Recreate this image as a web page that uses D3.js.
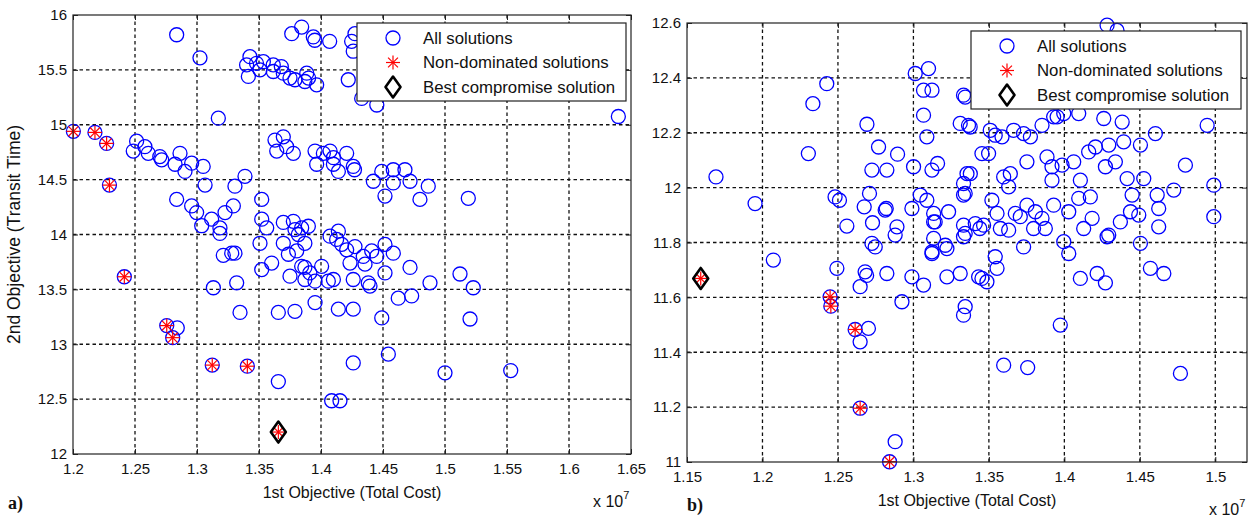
<!DOCTYPE html>
<html>
<head>
<meta charset="utf-8">
<script src="https://cdn.jsdelivr.net/npm/d3@7/dist/d3.min.js"></script>
<style>
body { margin: 0; background: #fff; }
svg { font-family: Arial, "Liberation Sans", sans-serif; }
</style>
</head>
<body>
<div id="app"></div>
<script>
// x values are in units of 1e7 (as printed on the axis)
// panel a) all solutions
const leftAll = [
  [1.2836,15.82],[1.3024,15.61],[1.3427,15.62],[1.3400,15.545],[1.3414,15.44],[1.3480,15.56],
  [1.3508,15.50],[1.3535,15.575],[1.3615,15.545],[1.3615,15.485],[1.3680,15.53],[1.3696,15.47],
  [1.3750,15.425],[1.3790,15.41],[1.3885,15.47],[1.3900,15.425],[1.3870,15.394],[1.3965,15.364],
  [1.3764,15.83],[1.3844,15.89],[1.3938,15.80],[1.3950,15.77],[1.4070,15.76],[1.4247,15.76],
  [1.4274,15.83],[1.4260,15.67],[1.4220,15.41],[1.4328,15.24],[1.4450,15.18],[1.6398,15.075],
  [1.3172,15.06],
  [1.2513,14.85],[1.2486,14.76],[1.2580,14.80],[1.2607,14.74],[1.2700,14.71],[1.2715,14.68],
  [1.2823,14.64],[1.2863,14.74],[1.2903,14.575],[1.2957,14.65],[1.3050,14.62],[1.2836,14.32],
  [1.3065,14.45],[1.2957,14.26],[1.2997,14.20],[1.3038,14.08],[1.3118,14.14],[1.3185,14.06],
  [1.3185,14.01],[1.3226,14.20],[1.3293,14.26],[1.3306,14.44],[1.3387,14.53],[1.3522,14.32],
  [1.3522,14.14],[1.3562,14.06],
  [1.3629,14.86],[1.3696,14.89],[1.3643,14.76],[1.3723,14.80],[1.3777,14.74],[1.3952,14.76],
  [1.3965,14.64],[1.4019,14.74],[1.4073,14.76],[1.4100,14.64],[1.4140,14.575],[1.4207,14.74],
  [1.4260,14.62],[1.4100,14.70],[1.4270,14.59],[1.4422,14.485],[1.4490,14.575],[1.4516,14.35],
  [1.4583,14.59],[1.4583,14.47],[1.4677,14.59],[1.4718,14.485],[1.4798,14.32],[1.4865,14.44],
  [1.5188,14.33],
  [1.3696,14.11],[1.3777,14.12],[1.3790,14.045],[1.3817,14.00],[1.3844,14.06],[1.3898,14.075],
  [1.3870,13.92],[1.3696,13.92],[1.3737,13.82],[1.3804,13.85],[1.3844,13.71],[1.3870,13.70],
  [1.3910,13.65],[1.3750,13.62],[1.3870,13.59],[1.3952,13.575],[1.4005,13.71],[1.4059,13.575],
  [1.4100,13.59],[1.4073,13.985],[1.4140,14.03],[1.4126,13.955],[1.4167,13.91],[1.4207,13.86],
  [1.4274,13.89],[1.4234,13.74],[1.4341,13.80],[1.4355,13.73],[1.4409,13.85],[1.4449,13.80],
  [1.4516,13.91],[1.4583,13.83],[1.4516,13.65],[1.4381,13.56],[1.4395,13.53],[1.4260,13.59],
  [1.3952,13.38],[1.4140,13.32],[1.4260,13.32],[1.4490,13.24],[1.4623,13.42],[1.4731,13.44],
  [1.4718,13.70],[1.4879,13.56],[1.5121,13.64],[1.5228,13.515],[1.5202,13.23],[1.3508,13.92],
  [1.3306,13.83],[1.3522,13.68],[1.3602,13.74],[1.3320,13.56],[1.3347,13.29],[1.3656,13.29],
  [1.3790,13.30],[1.3212,13.81],[1.3280,13.83],[1.3132,13.515],[1.3656,12.66],[1.4543,12.91],
  [1.4260,12.83],[1.5000,12.74],[1.5530,12.76],[1.4086,12.485],[1.4153,12.485],[1.2841,13.15],
  [1.2003,14.94],[1.2177,14.93],[1.2271,14.83],[1.2294,14.45],[1.2414,13.615],[1.2756,13.17],
  [1.2804,13.06],[1.3123,12.81],[1.3406,12.80]
];
const leftNonDom = [
  [1.2003,14.94],[1.2177,14.93],[1.2271,14.83],[1.2294,14.45],[1.2414,13.615],[1.2756,13.17],
  [1.2804,13.06],[1.3123,12.81],[1.3406,12.80],[1.3656,12.20]
];
const leftBest = [[1.3656,12.20]];

// panel b) all solutions
const rightAll = [
  [1.3012,12.416],[1.3100,12.434],[1.3067,12.355],[1.3123,12.355],[1.3067,12.264],[1.3089,12.185],
  [1.3332,12.337],[1.3310,12.234],[1.2426,12.379],[1.2334,12.306],[1.2692,12.231],[1.2304,12.124],
  [1.1692,12.039],[1.1951,11.942],[1.2769,12.148],[1.2895,12.122],[1.2725,12.064],[1.2824,12.064],
  [1.3001,12.076],[1.3123,12.064],[1.3160,12.088],[1.3355,12.051],[1.3332,12.015],[1.2481,11.966],
  [1.2510,11.954],[1.2709,11.979],[1.2674,11.930],[1.2820,11.924],[1.2990,11.924],[1.3045,11.973],
  [1.3089,11.954],[1.3134,11.906],[1.3233,11.912],[1.3332,11.973],[1.2559,11.860],[1.2729,11.872],
  [1.2891,11.857],[1.2879,11.827],[1.3134,11.875],[1.3134,11.815],[1.3332,11.863],[1.3332,11.821],
  [1.2725,11.797],[1.2747,11.784],[1.3211,11.790],[1.2072,11.736],[1.2493,11.706],[1.2680,11.693],
  [1.2690,11.680],[1.2647,11.639],[1.2824,11.687],[1.2990,11.675],[1.3067,11.645],[1.2924,11.584],
  [1.3222,11.675],[1.3310,11.687],[1.3343,11.566],[1.3332,11.535],[1.2702,11.487],[1.2647,11.438],
  [1.2879,11.074],[1.3123,11.766],[1.3365,12.227],[1.3509,12.209],[1.3542,12.191],[1.3454,12.124],
  [1.3498,12.124],[1.3587,12.185],[1.3664,12.209],[1.3730,12.197],[1.3775,12.185],[1.3852,12.227],
  [1.3929,12.258],[1.3752,12.094],[1.3885,12.112],[1.3918,12.076],[1.3918,12.027],[1.3598,12.039],
  [1.3642,12.051],[1.3631,12.003],[1.3377,12.051],[1.3343,11.979],[1.3520,11.954],[1.3144,11.875],
  [1.2813,11.918],[1.3123,11.760],[1.3222,11.778],[1.3343,11.833],[1.3410,11.869],[1.3465,11.863],
  [1.3440,11.851],[1.3554,11.906],[1.3576,11.851],[1.3631,11.845],[1.3675,11.906],[1.3708,11.894],
  [1.3752,11.936],[1.3808,11.912],[1.3852,11.888],[1.3874,11.851],[1.3929,11.936],[1.3796,11.851],
  [1.3730,11.784],[1.3542,11.748],[1.3554,11.706],[1.3487,11.657],[1.3432,11.675],[1.3454,11.669],
  [1.4946,12.227],[1.4603,12.197],[1.4504,12.155],[1.4393,12.167],[1.4294,12.155],[1.4206,12.148],
  [1.4161,12.130],[1.4802,12.082],[1.4338,12.094],[1.4272,12.076],[1.4062,12.094],[1.3985,12.082],
  [1.4416,12.033],[1.4526,12.033],[1.4990,12.009],[1.4725,11.991],[1.4615,11.973],[1.4449,11.973],
  [1.4438,11.912],[1.4493,11.900],[1.4625,11.924],[1.4625,11.857],[1.4990,11.894],[1.4371,11.875],
  [1.4294,11.827],[1.4184,11.888],[1.4128,11.851],[1.4106,12.027],[1.4095,11.961],[1.4172,11.966],
  [1.4029,11.912],[1.3996,11.803],[1.4029,11.760],[1.4504,11.797],[1.4570,11.706],[1.4659,11.687],
  [1.4106,11.669],[1.4217,11.687],[1.4272,11.653],[1.3973,11.499],[1.3996,12.270],[1.3952,12.258],
  [1.4095,12.270],[1.4261,12.252],[1.4383,12.239],[1.4283,12.592],[1.4349,12.573],[1.3343,12.330],
  [1.3376,12.221],[1.4283,11.821],[1.3598,11.353],[1.3757,11.344],[1.4769,11.323],
  [1.2448,11.602],[1.2453,11.568],[1.2614,11.483],[1.2647,11.196],[1.2842,11.001]
];
const rightNonDom = [
  [1.2448,11.602],[1.2453,11.568],[1.2614,11.483],[1.2647,11.196],[1.2842,11.001],[1.1591,11.669]
];
const rightBest = [[1.1591,11.669]];

const leftXTicks = [1.2, 1.25, 1.3, 1.35, 1.4, 1.45, 1.5, 1.55, 1.6, 1.65];
const leftYTicks = [12, 12.5, 13, 13.5, 14, 14.5, 15, 15.5, 16];
const rightXTicks = [1.15, 1.2, 1.25, 1.3, 1.35, 1.4, 1.45, 1.5];
const rightYTicks = [11, 11.2, 11.4, 11.6, 11.8, 12, 12.2, 12.4, 12.6];
const legendLabels = ['All solutions', 'Non-dominated solutions', 'Best compromise solution'];

const svg = d3.select('#app').append('svg').attr('width', 1255).attr('height', 521);

// MATLAB style markers
function circle(g, cx, cy) {
  g.append('circle').attr('cx', cx).attr('cy', cy).attr('r', 7)
    .attr('fill', 'none').attr('stroke', '#0000ff').attr('stroke-width', 1.3);
}
function star(g, cx, cy) {
  const r = 7, d = r * Math.SQRT1_2;
  const segs = [[-r,0,r,0],[0,-r,0,r],[-d,-d,d,d],[-d,d,d,-d]];
  segs.forEach(s => g.append('line')
    .attr('x1', cx + s[0]).attr('y1', cy + s[1]).attr('x2', cx + s[2]).attr('y2', cy + s[3])
    .attr('stroke', '#ff0000').attr('stroke-width', 1.2));
}
function diamond(g, cx, cy) {
  const w = 7.5, h = 10.5;
  g.append('path')
    .attr('d', `M${cx},${cy - h}L${cx + w},${cy}L${cx},${cy + h}L${cx - w},${cy}Z`)
    .attr('fill', 'none').attr('stroke', '#000').attr('stroke-width', 2.6).attr('stroke-linejoin', 'round');
}

function drawPanel(cfg) {
  const x = d3.scaleLinear().domain(cfg.xDomain).range([cfg.left, cfg.right]);
  const y = d3.scaleLinear().domain(cfg.yDomain).range([cfg.bottom, cfg.top]);
  const g = svg.append('g');

  // dotted grid
  g.selectAll('.vgrid').data(cfg.xTicks.filter(t => x(t) > cfg.left + 1 && x(t) < cfg.right - 1))
    .enter().append('line')
    .attr('x1', d => x(d)).attr('x2', d => x(d)).attr('y1', cfg.top).attr('y2', cfg.bottom)
    .attr('stroke', '#111').attr('stroke-width', 1.3).attr('stroke-dasharray', '3.5,3');
  g.selectAll('.hgrid').data(cfg.yTicks.filter(t => y(t) > cfg.top + 1 && y(t) < cfg.bottom - 1))
    .enter().append('line')
    .attr('y1', d => y(d)).attr('y2', d => y(d)).attr('x1', cfg.left).attr('x2', cfg.right)
    .attr('stroke', '#111').attr('stroke-width', 1.3).attr('stroke-dasharray', '3.5,3');

  // axes, ticks pointing inward on all four sides
  const fmt = d => String(d);
  const ax = [
    g.append('g').attr('transform', `translate(0,${cfg.bottom})`)
      .call(d3.axisBottom(x).tickValues(cfg.xTicks).tickFormat(fmt).tickSizeInner(-5).tickSizeOuter(0).tickPadding(9)),
    g.append('g').attr('transform', `translate(${cfg.left},0)`)
      .call(d3.axisLeft(y).tickValues(cfg.yTicks).tickFormat(fmt).tickSizeInner(-5).tickSizeOuter(0).tickPadding(6)),
    g.append('g').attr('transform', `translate(0,${cfg.top})`)
      .call(d3.axisTop(x).tickValues(cfg.xTicks).tickFormat('').tickSizeInner(-5).tickSizeOuter(0)),
    g.append('g').attr('transform', `translate(${cfg.right},0)`)
      .call(d3.axisRight(y).tickValues(cfg.yTicks).tickFormat('').tickSizeInner(-5).tickSizeOuter(0))
  ];
  ax.forEach(a => {
    a.selectAll('text').attr('font-size', 15).attr('fill', '#111').attr('font-family', 'Arial, "Liberation Sans", sans-serif');
    a.selectAll('line').attr('stroke', '#222');
    a.select('.domain').remove();
  });

  // markers
  const marks = g.append('g');
  cfg.all.forEach(p => circle(marks, x(p[0]), y(p[1])));
  cfg.nonDom.forEach(p => star(marks, x(p[0]), y(p[1])));
  cfg.best.forEach(p => diamond(marks, x(p[0]), y(p[1])));

  // box
  g.append('rect').attr('x', cfg.left).attr('y', cfg.top)
    .attr('width', cfg.right - cfg.left).attr('height', cfg.bottom - cfg.top)
    .attr('fill', 'none').attr('stroke', '#222').attr('stroke-width', 1.2);

  // axis labels
  g.append('text').attr('x', (cfg.left + cfg.right) / 2).attr('y', cfg.bottom + 44)
    .attr('text-anchor', 'middle').attr('font-size', 16).attr('fill', '#111')
    .text('1st Objective (Total Cost)');
  const ex = g.append('text').attr('x', cfg.right - 38).attr('y', cfg.bottom + 53)
    .attr('font-size', 16).attr('fill', '#111');
  ex.append('tspan').text('x 10');
  ex.append('tspan').attr('dy', -8).attr('font-size', 11).text('7');
  if (cfg.yLabel) {
    g.append('text').attr('transform', `translate(${cfg.left - 53},${(cfg.top + cfg.bottom) / 2}) rotate(-90)`)
      .attr('text-anchor', 'middle').attr('font-size', 17.5).attr('fill', '#111')
      .text(cfg.yLabel);
  }
  g.append('text').attr('x', cfg.tagX).attr('y', cfg.tagY)
    .attr('font-family', '"Liberation Serif", "Times New Roman", serif').attr('font-weight', 'bold')
    .attr('font-size', 18).attr('fill', '#111').text(cfg.tag);

  // legend
  const L = cfg.legend;
  const lg = g.append('g');
  lg.append('rect').attr('x', L.x).attr('y', L.y).attr('width', L.w).attr('height', L.h)
    .attr('fill', '#fff').attr('stroke', '#222').attr('stroke-width', 1.2);
  legendLabels.forEach((lab, i) => {
    const cy = L.y + 15 + i * 24.5;
    if (i === 0) circle(lg, L.x + 36, cy);
    if (i === 1) star(lg, L.x + 36, cy);
    if (i === 2) diamond(lg, L.x + 36, cy);
    lg.append('text').attr('x', L.x + 66).attr('y', cy).attr('dy', '0.35em')
      .attr('font-size', 16.8).attr('fill', '#111').text(lab);
  });
}

drawPanel({
  xDomain: [1.2, 1.65], yDomain: [12, 16],
  left: 73, right: 631, top: 15, bottom: 454,
  xTicks: leftXTicks, yTicks: leftYTicks,
  all: leftAll, nonDom: leftNonDom, best: leftBest,
  yLabel: '2nd Objective (Transit Time)',
  tag: 'a)', tagX: 8, tagY: 509,
  legend: { x: 357, y: 23, w: 269, h: 78 }
});

drawPanel({
  xDomain: [1.15, 1.521], yDomain: [11, 12.6],
  left: 687, right: 1247, top: 23, bottom: 462,
  xTicks: rightXTicks, yTicks: rightYTicks,
  all: rightAll, nonDom: rightNonDom, best: rightBest,
  yLabel: null,
  tag: 'b)', tagX: 687, tagY: 511,
  legend: { x: 971, y: 31, w: 270, h: 78 }
});
</script>
</body>
</html>
